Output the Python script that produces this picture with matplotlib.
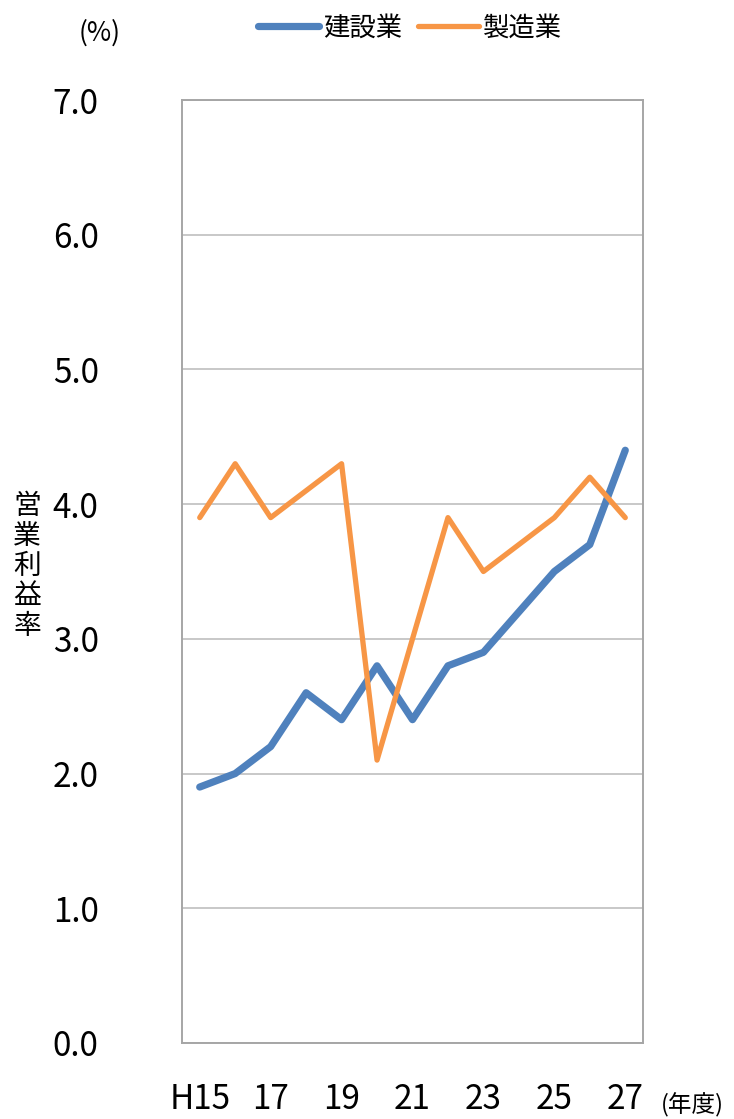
import matplotlib.pyplot as plt

plt.rcParams['font.family'] = ['Noto Sans CJK JP', 'DejaVu Sans']

years = [15, 16, 17, 18, 19, 20, 21, 22, 23, 24, 25, 26, 27]
tick_labels = ['H15', '17', '19', '21', '23', '25', '27']
construction = [1.9, 2.0, 2.2, 2.6, 2.4, 2.8, 2.4, 2.8, 2.9, 3.2, 3.5, 3.7, 4.4]
manufacturing = [3.9, 4.3, 3.9, 4.1, 4.3, 2.1, 3.0, 3.9, 3.5, 3.7, 3.9, 4.2, 3.9]
y_ticks = [0.0, 1.0, 2.0, 3.0, 4.0, 5.0, 6.0, 7.0]

W, H = 734, 1119
fig = plt.figure(figsize=(W / 100, H / 100), dpi=100)
ax = fig.add_axes([182 / W, 1 - 1043 / H, (643 - 182) / W, (1043 - 100) / H])

x = list(range(len(years)))
ax.plot(x, construction, color='#4F81BD', lw=5.2, solid_capstyle='round',
        solid_joinstyle='round', label='建設業', zorder=3)
ax.plot(x, manufacturing, color='#F79646', lw=3.8, solid_capstyle='round',
        solid_joinstyle='round', label='製造業', zorder=3)

ax.set_xlim(-0.5, len(years) - 0.5)
ax.set_ylim(0, 7)
ax.set_yticks(y_ticks)
ax.set_yticklabels([f'{v:.1f}' for v in y_ticks], fontsize=24)
ax.set_xticks(x[::2])
ax.set_xticklabels(tick_labels, fontsize=24)
ax.tick_params(length=0)
ax.tick_params(axis='y', pad=60)
ax.tick_params(axis='x', pad=28)
ax.grid(axis='y', color='#BFBFBF', lw=1.2)
ax.set_axisbelow(True)
for s in ax.spines.values():
    s.set_color('#A6A6A6')
    s.set_linewidth(1.4)

fig.text(100 / W, 1 - 33 / H, '(%)', fontsize=19, ha='center', va='center')
fig.text(692 / W, 1 - 1105 / H, '(年度)', fontsize=17, ha='center', va='center')
fig.text(27 / W, 1 - 566 / H, '\n'.join('営業利益率'), fontsize=20,
         ha='center', va='center', linespacing=1.0)

fig.legend(loc='center', bbox_to_anchor=(410 / W, 1 - 28 / H), ncol=2,
           frameon=False, fontsize=19, handlelength=2.3, handletextpad=0.15,
           columnspacing=0.6)

fig.savefig('out.png', dpi=100)
